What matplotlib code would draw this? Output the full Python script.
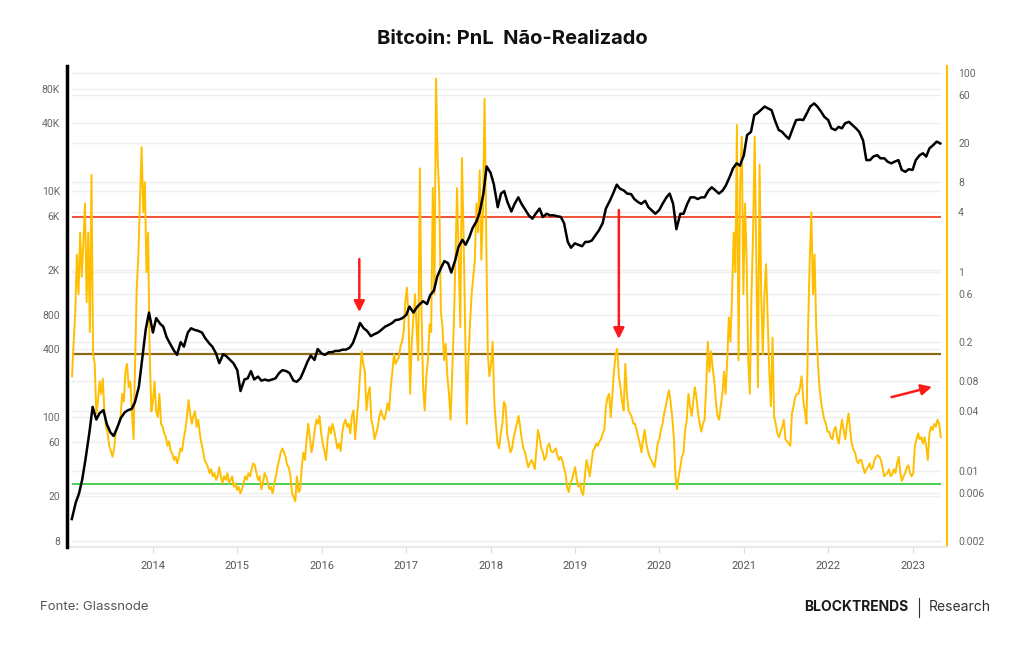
import matplotlib
matplotlib.use('Agg')
import matplotlib.pyplot as plt
import matplotlib.dates as mdates
from matplotlib.lines import Line2D
from matplotlib.ticker import FixedLocator, FixedFormatter, NullLocator
import pandas as pd

# price: semi-monthly samples, Jan 2013 -> May 2023
price_dates = pd.date_range('2013-01-15', '2023-05-01', freq='SMS')
btc_price = [
    12.5, 17.5, 21, 28, 42, 73, 123, 95, 108, 115,
    87, 73, 68, 82, 98, 110, 115, 118, 135, 185,
    320, 600, 840, 560, 750, 670, 630, 510, 450, 390,
    355, 460, 420, 560, 610, 590, 580, 560, 500, 450,
    420, 365, 300, 360, 345, 320, 300, 260, 170, 215,
    220, 255, 215, 228, 210, 215, 210, 215, 220, 245,
    260, 255, 245, 210, 205, 220, 255, 310, 350, 320,
    400, 365, 355, 375, 375, 385, 385, 395, 395, 410,
    450, 560, 680, 610, 580, 520, 540, 560, 590, 630,
    650, 680, 720, 730, 750, 800, 950, 840, 930, 1000,
    1060, 1000, 1200, 1320, 1750, 2100, 2400, 2300, 1900, 2450,
    3200, 3700, 3350, 3900, 4700, 5400, 6500, 9500, 16500, 14500,
    11500, 7200, 9500, 10000, 8000, 6600, 7700, 8800, 7700, 6800,
    6100, 5700, 6300, 7000, 5900, 6300, 6100, 6100, 6000, 5900,
    5200, 3550, 3150, 3450, 3350, 3250, 3550, 3550, 3650, 4100,
    4500, 5200, 7000, 8200, 9500, 11400, 10500, 10100, 9500, 9400,
    8500, 8000, 7700, 8200, 7200, 6700, 6300, 6800, 7700, 8800,
    9500, 7700, 4600, 6300, 6300, 7700, 8800, 8800, 8500, 8800,
    8800, 10100, 10800, 10100, 9500, 10100, 11200, 13400, 15900, 17600,
    16800, 20800, 31300, 33500, 47000, 49000, 52000, 56000, 54000, 52000,
    42500, 34700, 33500, 30800, 29000, 35900, 42500, 43000, 42500, 49000,
    56000, 59700, 56000, 50500, 45500, 42500, 35900, 34700, 37000, 35900,
    39800, 41000, 38500, 35900, 33500, 28000, 18800, 18800, 20200, 20800,
    19500, 19500, 18200, 17600, 18200, 18800, 15400, 14800, 15600, 15400,
    18800, 20800, 21600, 20200, 23900, 25600, 27400, 26400,
]

# unrealized PnL: weekly samples, one list per year
pnl_dates = pd.date_range('2013-01-16', '2023-05-03', freq='7D')
pnl_2013 = [
    0.09, 0.2, 0.4, 1.5, 0.6, 2.5, 0.9, 2.0, 4.9, 0.5,
    2.5, 0.25, 9.5, 0.15, 0.12, 0.038, 0.05, 0.08, 0.06, 0.085,
    0.04, 0.028, 0.024, 0.018, 0.016, 0.014, 0.017, 0.024, 0.028, 0.03,
    0.036, 0.06, 0.05, 0.1, 0.12, 0.07, 0.08, 0.04, 0.021, 0.13,
    0.7, 1.5, 5, 18, 4, 8, 1.0, 2.5, 0.15, 0.04,
]
pnl_2014 = [
    0.05, 0.08, 0.04, 0.035, 0.06, 0.03, 0.028, 0.024, 0.022, 0.018,
    0.02, 0.016, 0.015, 0.013, 0.014, 0.012, 0.014, 0.017, 0.016, 0.021,
    0.026, 0.035, 0.052, 0.038, 0.03, 0.036, 0.04, 0.028, 0.033, 0.024,
    0.019, 0.016, 0.013, 0.012, 0.011, 0.0096, 0.0105, 0.0089, 0.0096, 0.0082,
    0.0089, 0.011, 0.0089, 0.0076, 0.0089, 0.0082, 0.0096, 0.0076, 0.0082, 0.0089,
    0.007, 0.0076, 0.0065,
]
pnl_2015 = [
    0.007, 0.006, 0.0066, 0.0076, 0.0089, 0.0082, 0.0096, 0.0089, 0.0105, 0.012,
    0.0115, 0.0096, 0.0082, 0.0089, 0.0066, 0.0076, 0.0096, 0.0089, 0.0076, 0.0066,
    0.007, 0.006, 0.0076, 0.0089, 0.011, 0.013, 0.0155, 0.017, 0.0155, 0.014,
    0.0115, 0.011, 0.0089, 0.006, 0.0055, 0.005, 0.0089, 0.0062, 0.0065, 0.011,
    0.0155, 0.013, 0.021, 0.03, 0.022, 0.0155, 0.019, 0.026, 0.033, 0.03,
    0.036, 0.024,
]
pnl_2016 = [
    0.019, 0.016, 0.013, 0.021, 0.028, 0.024, 0.03, 0.026, 0.021, 0.017,
    0.019, 0.016, 0.024, 0.03, 0.033, 0.028, 0.03, 0.024, 0.036, 0.041,
    0.021, 0.033, 0.052, 0.09, 0.16, 0.12, 0.1, 0.041, 0.06, 0.07,
    0.033, 0.028, 0.021, 0.024, 0.028, 0.036, 0.041, 0.036, 0.033, 0.038,
    0.048, 0.041, 0.07, 0.1, 0.15, 0.12, 0.13, 0.14, 0.18, 0.2,
    0.25, 0.5,
]
pnl_2017 = [
    0.7, 0.35, 0.06, 0.2, 0.35, 0.6, 0.28, 0.13, 11, 0.42,
    0.07, 0.041, 0.09, 0.13, 0.3, 0.25, 7, 0.6, 88, 14,
    6, 0.4, 0.28, 0.13, 0.19, 0.09, 0.06, 0.033, 0.1, 0.3,
    1.33, 7, 1.33, 0.28, 14, 2.5, 0.28, 0.03, 0.13, 0.3,
    0.6, 0.9, 1.33, 4.9, 2.5, 10.5, 1.33, 4, 55, 2.5,
    0.15, 0.09,
]
pnl_2018 = [
    0.12, 0.2, 0.05, 0.03, 0.019, 0.017, 0.024, 0.03, 0.05, 0.045,
    0.024, 0.019, 0.0155, 0.017, 0.022, 0.026, 0.03, 0.036, 0.028, 0.021,
    0.017, 0.0155, 0.013, 0.011, 0.012, 0.013, 0.012, 0.0105, 0.016, 0.026,
    0.022, 0.017, 0.0155, 0.013, 0.014, 0.018, 0.019, 0.016, 0.0155, 0.016,
    0.017, 0.0145, 0.013, 0.014, 0.013, 0.011, 0.0096, 0.007, 0.0062, 0.0076,
    0.0082, 0.0096,
]
pnl_2019 = [
    0.011, 0.0082, 0.007, 0.0076, 0.0062, 0.0058, 0.0089, 0.013, 0.011, 0.0089,
    0.012, 0.016, 0.017, 0.019, 0.018, 0.02, 0.021, 0.024, 0.026, 0.045,
    0.055, 0.06, 0.035, 0.06, 0.1, 0.15, 0.17, 0.09, 0.07, 0.05,
    0.041, 0.12, 0.06, 0.041, 0.038, 0.035, 0.03, 0.03, 0.026, 0.022,
    0.019, 0.0155, 0.021, 0.026, 0.019, 0.016, 0.014, 0.013, 0.012, 0.011,
    0.014, 0.019,
]
pnl_2020 = [
    0.021, 0.026, 0.03, 0.038, 0.045, 0.055, 0.065, 0.05, 0.035, 0.022,
    0.009, 0.0066, 0.0089, 0.011, 0.014, 0.0155, 0.026, 0.033, 0.06, 0.045,
    0.036, 0.05, 0.07, 0.055, 0.038, 0.03, 0.025, 0.03, 0.033, 0.07,
    0.2, 0.1, 0.16, 0.11, 0.08, 0.05, 0.036, 0.033, 0.045, 0.06,
    0.1, 0.06, 0.13, 0.35, 0.2, 0.6, 2.5, 1.0, 30, 0.13,
    8, 23, 0.6,
]
pnl_2021 = [
    4.9, 1.33, 0.13, 0.06, 0.6, 2.5, 23, 1.33, 0.07, 12,
    0.6, 0.15, 0.6, 1.2, 0.35, 0.1, 0.045, 0.22, 0.035, 0.03,
    0.024, 0.022, 0.025, 0.028, 0.033, 0.021, 0.02, 0.019, 0.018, 0.038,
    0.045, 0.055, 0.06, 0.06, 0.07, 0.09, 0.052, 0.04, 0.03, 0.28,
    1.33, 4, 0.6, 1.5, 0.28, 0.13, 0.07, 0.05, 0.04, 0.033,
    0.03, 0.025,
]
pnl_2022 = [
    0.025, 0.022, 0.021, 0.026, 0.028, 0.022, 0.019, 0.026, 0.033, 0.026,
    0.021, 0.03, 0.038, 0.026, 0.019, 0.0165, 0.0155, 0.013, 0.012, 0.013,
    0.013, 0.011, 0.0096, 0.0105, 0.011, 0.012, 0.0105, 0.011, 0.013, 0.014,
    0.0145, 0.014, 0.013, 0.011, 0.0089, 0.0093, 0.0096, 0.0105, 0.0089, 0.0093,
    0.0105, 0.0096, 0.012, 0.014, 0.0096, 0.008, 0.0089, 0.0096, 0.011, 0.0115,
    0.0096, 0.0089,
]
pnl_2023 = [
    0.0096, 0.018, 0.021, 0.024, 0.021, 0.022, 0.019, 0.022, 0.018, 0.013,
    0.024, 0.028, 0.026, 0.03, 0.028, 0.033, 0.03, 0.022,
]
unrealized_pnl = (pnl_2013 + pnl_2014 + pnl_2015 + pnl_2016 + pnl_2017 + pnl_2018
                  + pnl_2019 + pnl_2020 + pnl_2021 + pnl_2022 + pnl_2023)

price_ticks = [8, 20, 60, 100, 400, 800, 2000, 6000, 10000, 40000, 80000]
price_labels = ['8', '20', '60', '100', '400', '800', '2K', '6K', '10K', '40K', '80K']
pnl_ticks = [0.002, 0.006, 0.01, 0.04, 0.08, 0.2, 0.6, 1, 4, 8, 20, 60, 100]
pnl_labels = ['0.002', '0.006', '0.01', '0.04', '0.08', '0.2', '0.6', '1', '4', '8', '20', '60', '100']
years = [2014, 2015, 2016, 2017, 2018, 2019, 2020, 2021, 2022, 2023]

# reference bands of the PnL metric
euphoria_level = 3.6
neutral_level = 0.15
capitulation_level = 0.0074

ORANGE = '#ffbf00'
GRID = '#efefef'

plt.rcParams['font.family'] = ['Roboto', 'DejaVu Sans']

fig = plt.figure(figsize=(10.24, 6.45), dpi=100)
ax = fig.add_axes([0.0654, 0.152, 0.8594, 0.7457])   # PnL, right scale
ax2 = ax.twinx()                                      # price, left scale

ax.set_yscale('log')
ax2.set_yscale('log')
ax.set_ylim(0.00174, 117.5)
ax2.set_ylim(7.08, 128000)
ax.set_xlim(mdates.date2num(pd.Timestamp('2012-12-25')), mdates.date2num(pd.Timestamp('2023-05-30')))

# light grid for both scales, kept under every line
for v in pnl_ticks:
    ax.add_artist(Line2D([0.006, 0.992], [v, v], transform=ax.get_yaxis_transform(),
                         color=GRID, lw=1, zorder=0))
for v in price_ticks:
    ax.add_artist(Line2D([0.006, 0.992], [v, v], transform=ax2.get_yaxis_transform(),
                         color=GRID, lw=1, zorder=0))

ax.hlines(euphoria_level, pnl_dates[0], pnl_dates[-1], color='#f0452b', lw=1.3, zorder=1)
ax.hlines(neutral_level, pnl_dates[0], pnl_dates[-1], color='#8c6a14', lw=1.6, zorder=1)
ax.hlines(capitulation_level, pnl_dates[0], pnl_dates[-1], color='#3ccc45', lw=1.3, zorder=1)

ax.plot(pnl_dates, unrealized_pnl, color=ORANGE, lw=1.4, zorder=2)
ax2.plot(price_dates, btc_price, color='black', lw=1.8, zorder=3)

# axis cosmetics
ax.yaxis.set_major_locator(FixedLocator(pnl_ticks))
ax.yaxis.set_major_formatter(FixedFormatter(pnl_labels))
ax.yaxis.set_minor_locator(NullLocator())
ax2.yaxis.set_major_locator(FixedLocator(price_ticks))
ax2.yaxis.set_major_formatter(FixedFormatter(price_labels))
ax2.yaxis.set_minor_locator(NullLocator())
ax.yaxis.tick_right()
ax2.yaxis.tick_left()

ax.set_xticks([mdates.date2num(pd.Timestamp(f'{y}-01-01')) for y in years])
ax.set_xticklabels([str(y) for y in years])

ax.tick_params(axis='y', which='both', length=0, pad=8, labelsize=7.5, labelcolor='#666666')
ax2.tick_params(axis='y', which='both', length=0, pad=5, labelsize=7.5, labelcolor='#666666')
ax.tick_params(axis='x', length=4, color='#dddddd', pad=6, labelsize=8, labelcolor='#555555')

for s in ['top', 'left']:
    ax.spines[s].set_visible(False)
ax.spines['right'].set_color(ORANGE)
ax.spines['right'].set_linewidth(1.5)
ax.spines['bottom'].set_color('#e8e8e8')
ax.spines['bottom'].set_linewidth(1.5)
for s in ['top', 'right', 'bottom']:
    ax2.spines[s].set_visible(False)
ax2.spines['left'].set_color('black')
ax2.spines['left'].set_linewidth(2.5)

# arrows
arrow = dict(arrowstyle='-|>', color='#ff1a1a', lw=1.8, mutation_scale=16, shrinkA=0, shrinkB=0)
d1 = mdates.date2num(pd.Timestamp('2016-06-12'))
d2 = mdates.date2num(pd.Timestamp('2019-07-10'))
ax2.annotate('', xy=(d1, 851), xytext=(d1, 2500), arrowprops=arrow)
ax2.annotate('', xy=(d2, 491), xytext=(d2, 6790), arrowprops=arrow)
ax2.annotate('', xy=(mdates.date2num(pd.Timestamp('2023-03-26')), 185),
             xytext=(mdates.date2num(pd.Timestamp('2022-10-02')), 150), arrowprops=arrow)

fig.text(0.5, 1 - 38.7 / 645, 'Bitcoin: PnL  Não-Realizado', ha='center', va='center',
         fontsize=14.5, fontweight='bold', family='Inter', color='#111111')

fy = 1 - 607 / 645
fig.text(40 / 1024, fy, 'Fonte: Glassnode', ha='left', va='center', fontsize=9.5,
         color='#555555', family='Inter')
fig.text(908 / 1024, fy, 'BLOCKTRENDS', ha='right', va='center', fontsize=10,
         fontweight='bold', color='#1a1a1a', family='Inter')
fig.add_artist(Line2D([919 / 1024] * 2, [1 - 598 / 645, 1 - 617 / 645], color='#333333', lw=0.8))
fig.text(929 / 1024, fy, 'Research', ha='left', va='center', fontsize=10,
         color='#333333', family='Inter')

fig.savefig('out.png', dpi=100)
